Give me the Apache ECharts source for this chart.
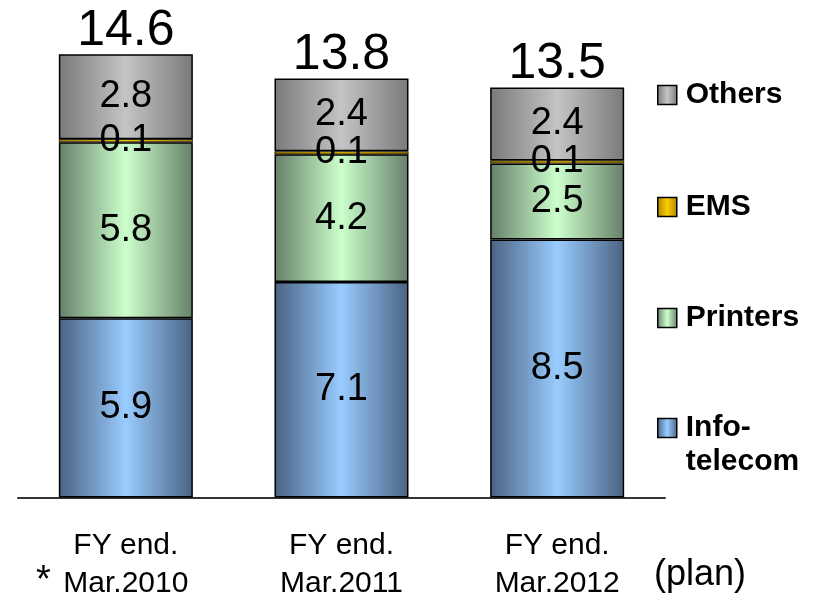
<!DOCTYPE html>
<html>
<head>
<meta charset="utf-8">
<script src="https://cdn.jsdelivr.net/npm/echarts@6/dist/echarts.min.js"></script>
<style>
html,body{margin:0;padding:0;background:#fff;}
#main{width:827px;height:597px;}
</style>
</head>
<body>
<div id="main"></div>
<script>
var categories = ['FY end.\nMar.2010', 'FY end.\nMar.2011', 'FY end.\nMar.2012'];
var infoTelecom = [5.9, 7.1, 8.5];
var printers = [5.8, 4.2, 2.5];
var ems = [0.1, 0.1, 0.1];
var others = [2.8, 2.4, 2.4];
var totals = [14.6, 13.8, 13.5];
var seriesNames = ['Info-telecom', 'Printers', 'EMS', 'Others'];

var FONT = "'Liberation Sans', Arial, sans-serif";

function grad(dark, light) {
  return {
    type: 'linear', x: 0, y: 0, x2: 1, y2: 0,
    colorStops: [
      {offset: 0, color: dark},
      {offset: 0.5, color: light},
      {offset: 1, color: dark}
    ]
  };
}
var fills = {
  'Info-telecom': grad('#4a6282', '#99ccff'),
  'Printers': grad('#66806a', '#ccffcc'),
  'EMS': grad('#a88600', '#ffcc00'),
  'Others': grad('#7a7a7a', '#c4c4c4')
};
var values = {
  'Info-telecom': infoTelecom,
  'Printers': printers,
  'EMS': ems,
  'Others': others
};

var series = seriesNames.map(function (n) {
  return {
    name: n,
    type: 'bar',
    stack: 'total',
    barWidth: 134,
    data: values[n],
    itemStyle: {color: fills[n], borderColor: '#000', borderWidth: n === 'EMS' ? 0.8 : 1.5},
    label: {
      show: true,
      position: 'inside',
      color: '#000',
      fontFamily: FONT,
      fontSize: 38,
      formatter: function (p) { return p.value.toFixed(1); }
    }
  };
});
series.push({
  name: 'Total',
  type: 'bar',
  barWidth: 134,
  barGap: '-100%',
  silent: true,
  data: totals,
  itemStyle: {color: 'rgba(0,0,0,0)', borderWidth: 0},
  label: {
    show: true,
    position: 'top',
    distance: -2,
    color: '#000',
    fontFamily: FONT,
    fontSize: 50,
    formatter: function (p) { return p.value.toFixed(1); }
  },
  z: 1
});

function legendFor(name, top, text) {
  return {
    orient: 'vertical',
    left: 657,
    top: top,
    padding: 0,
    itemWidth: 19,
    itemHeight: 19,
    itemGap: 0,
    selectedMode: false,
    data: [{name: name, icon: 'rect', itemStyle: {color: fills[name], borderColor: '#000', borderWidth: 1.5}}],
    formatter: function () { return text; },
    textStyle: {
      color: '#000',
      fontFamily: FONT,
      fontWeight: 'bold',
      fontSize: 30,
      lineHeight: 34,
      padding: [0, 0, 0, 4]
    }
  };
}

var option = {
  animation: false,
  backgroundColor: '#fff',
  grid: {left: 18, right: 162, top: 42, bottom: 99.5, containLabel: false, outerBoundsMode: 'none'},
  legend: [
    legendFor('Others', 78, 'Others'),
    legendFor('EMS', 190, 'EMS'),
    legendFor('Printers', 301, 'Printers'),
    legendFor('Info-telecom', 377, ' \nInfo-\ntelecom')
  ],
  xAxis: {
    type: 'category',
    data: categories,
    axisLine: {show: true, lineStyle: {color: '#333', width: 2}},
    axisTick: {show: false},
    axisLabel: {
      color: '#000',
      fontFamily: FONT,
      fontSize: 30,
      lineHeight: 38,
      margin: 29,
      interval: 0
    }
  },
  yAxis: {
    type: 'value',
    min: 0,
    max: 15,
    show: false,
    splitLine: {show: false}
  },
  series: series,
  graphic: [
    {type: 'text', left: 36, top: 563, style: {text: '*', fill: '#000', font: '38px ' + FONT}},
    {type: 'text', left: 654, top: 557, style: {text: '(plan)', fill: '#000', font: '36px ' + FONT}}
  ]
};

var chart = echarts.init(document.getElementById('main'), null, {renderer: 'canvas'});
chart.setOption(option);
</script>
</body>
</html>
